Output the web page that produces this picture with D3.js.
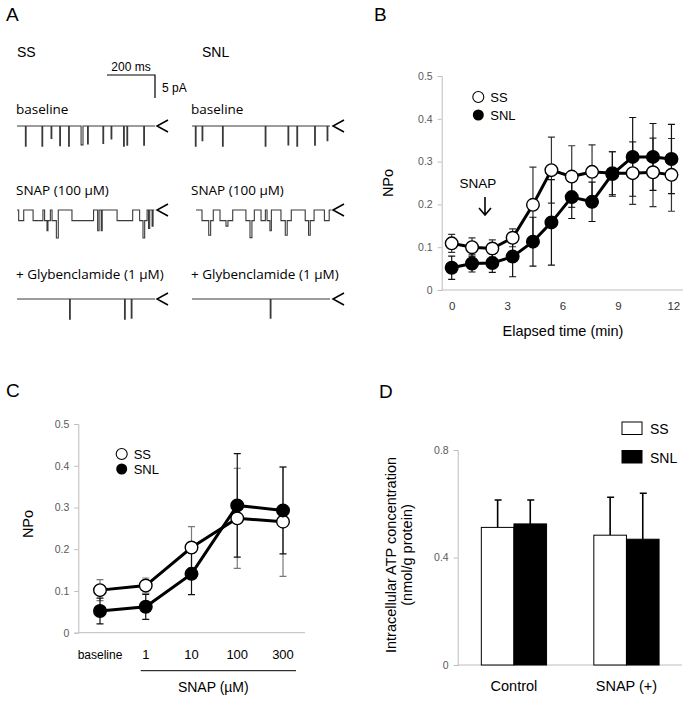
<!DOCTYPE html>
<html>
<head>
<meta charset="utf-8">
<script src="https://cdn.jsdelivr.net/npm/d3@7"></script>
<style>
  body { margin: 0; background: #fff; }
  svg text { font-family: "Liberation Sans", Arial, sans-serif; }
  .cal { font-family: "Open Sans", "Noto Sans", sans-serif; }
</style>
</head>
<body>
<div id="fig"></div>
<script>
// ---------- panel A: single-channel traces (time in ms, current in pA) ----------
// spikes: [time, depth, width]
var ssBaselineSpikes = [[35,4.4,3],[104,4.4,3],[142,2.7,3],[178,4.3,3],[215,4.4,3],[267,4.1,8],[294,3.9,3],[358,3.8,3],[392,2.8,3],[444,4.4,3],[458,4.2,3],[528,4.2,3]];
var snlBaselineSpikes = [[14,4.4,3],[42,3.2,3],[127,4.4,3],[305,4.4,3],[400,4.1,3],[437,4.4,3],[511,4.2,3],[563,3.2,3]];
var ssGlibSpikes = [[219,4.4,3],[448,4.4,3],[476,4.2,3]];
var snlGlibSpikes = [[326,4.2,3]];
// step levels: [time, level]
var ssSnapSteps = [[0,0],[7,-2.3],[28,0],[67,-2.3],[108,0],[115,-2.3],[125,-4.5],[129,-2.3],[139,0],[146,-2.3],[164,-6.1],[172,0],[229,-2.3],[319,0],[336,-4.5],[342,0],[351,-4.5],[355,0],[417,-2.3],[482,0],[511,-2.3],[525,-6.1],[532,-2.3],[542,0],[548,-4],[553,0],[563,-3.5],[567,0],[572,0]];
var snlSnapSteps = [[0,0],[25,-2.3],[53,-5.5],[61,-2.3],[72,0],[100,-2.3],[125,-3.5],[133,-2.3],[153,0],[208,-2.3],[225,-6],[233,-2.3],[243,0],[271,-2.3],[289,0],[296,-2.3],[308,-4.5],[314,0],[354,-2.3],[372,-5.5],[380,-2.3],[397,0],[455,-2.3],[469,-5.5],[476,-2.3],[492,0],[535,-2.3],[555,0],[564,0]];
var traceLength = 575;

// ---------- panel B: NPo vs elapsed time ----------
var timeMin = [0, 1.1, 2.2, 3.3, 4.4, 5.4, 6.5, 7.6, 8.7, 9.8, 10.9, 11.9];
var ssTime = [0.109, 0.100, 0.097, 0.122, 0.199, 0.280, 0.265, 0.276, 0.273, 0.273, 0.275, 0.269];
var ssTimeErr = [0.021, 0.022, 0.020, 0.021, 0.088, 0.077, 0.072, 0.063, 0.050, 0.073, 0.080, 0.085];
var snlTime = [0.052, 0.062, 0.063, 0.078, 0.113, 0.158, 0.217, 0.206, 0.271, 0.311, 0.311, 0.306];
var snlTimeErr = [0.027, 0.020, 0.022, 0.047, 0.057, 0.100, 0.050, 0.046, 0.052, 0.092, 0.078, 0.081];
var timeTicks = [0, 3, 6, 9, 12];
var npoTicksB = [0, 0.1, 0.2, 0.3, 0.4, 0.5];

// ---------- panel C: NPo vs SNAP concentration ----------
var doseCats = ["baseline", "1", "10", "100", "300"];
var ssDose = [0.102, 0.113, 0.204, 0.274, 0.266];
var ssDoseErr = [0.025, 0.018, 0.050, 0.120, 0.131];
var snlDose = [0.052, 0.062, 0.141, 0.305, 0.293];
var snlDoseErr = [0.031, 0.030, 0.050, 0.124, 0.104];

// ---------- panel D: intracellular ATP ----------
var atpGroups = ["Control", "SNAP (+)"];
var atpSeries = ["SS", "SNL"];
var ssAtp = [0.512, 0.483];
var ssAtpErr = [0.102, 0.141];
var snlAtp = [0.525, 0.468];
var snlAtpErr = [0.089, 0.171];
var atpTicks = [0, 0.4, 0.8];

var W = 685, H = 703;
var svg = d3.select("#fig").append("svg").attr("width", W).attr("height", H);
svg.append("rect").attr("width", W).attr("height", H).attr("fill", "#fff");

function panelLetter(t, x, y) {
  svg.append("text").attr("x", x).attr("y", y).attr("font-size", 19).text(t);
}

// ================= A =================
panelLetter("A", 6, 21);
svg.append("text").attr("x", 17).attr("y", 57).attr("font-size", 14).text("SS");
svg.append("text").attr("x", 202).attr("y", 57).attr("font-size", 14).text("SNL");

// scale bar: 200 ms, 5 pA
var xT = d3.scaleLinear().domain([0, 200]).range([0, 48]);
var yT = d3.scaleLinear().domain([0, -5]).range([0, 23]);
var sb = svg.append("g").attr("transform", "translate(107,75)");
sb.append("path").attr("d", "M0,0H" + xT(200) + "V" + yT(-5)).attr("fill", "none").attr("stroke", "#000").attr("stroke-width", 1.2);
sb.append("text").attr("x", xT(100)).attr("y", -4).attr("text-anchor", "middle").attr("font-size", 12).text("200 ms");
sb.append("text").attr("x", xT(200) + 7).attr("y", yT(-2.5) + 5).attr("font-size", 12).text("5 pA");

function spikePoints(spikes) {
  var pts = [[0, 0]];
  spikes.forEach(function (s) {
    pts.push([s[0], 0], [s[0], -s[1]], [s[0] + s[2], -s[1]], [s[0] + s[2], 0]);
  });
  pts.push([traceLength, 0]);
  return pts;
}
function stepPoints(steps) {
  var pts = [];
  steps.forEach(function (s, i) {
    if (i > 0) pts.push([s[0], steps[i - 1][1]]);
    pts.push(s);
  });
  return pts;
}
function drawTrace(pts, x0, y0, arrowX) {
  var g = svg.append("g").attr("transform", "translate(" + x0 + "," + y0 + ")");
  g.append("path").datum(pts)
    .attr("d", d3.line().x(function (d) { return xT(d[0]); }).y(function (d) { return yT(d[1]); }))
    .attr("fill", "none").attr("stroke", "#3a3a3a").attr("stroke-width", 1.1);
  svg.append("path")
    .attr("d", "M" + (arrowX + 11) + "," + (y0 - 6) + "L" + arrowX + "," + y0 + "L" + (arrowX + 11) + "," + (y0 + 6))
    .attr("fill", "none").attr("stroke", "#000").attr("stroke-width", 1.5);
}

var labA = [["baseline", 114], ["SNAP (100 \u00b5M)", 195], ["+ Glybenclamide (1 \u00b5M)", 279]];
labA.forEach(function (l) {
  svg.append("text").attr("class", "cal").attr("x", 16).attr("y", l[1]).attr("font-size", 13.5).text(l[0]);
  svg.append("text").attr("class", "cal").attr("x", 191).attr("y", l[1]).attr("font-size", 13.5).text(l[0]);
});
drawTrace(spikePoints(ssBaselineSpikes), 17, 126, 157);
drawTrace(spikePoints(snlBaselineSpikes), 192, 126, 333);
drawTrace(stepPoints(ssSnapSteps), 17, 210, 157);
drawTrace(stepPoints(snlSnapSteps), 196, 210, 333);
drawTrace(spikePoints(ssGlibSpikes), 17, 299, 157);
drawTrace(spikePoints(snlGlibSpikes), 192, 299, 333);

// ================= common helpers =================
function yAxis(scale, x, ticks, fmt) {
  var g = svg.append("g").attr("transform", "translate(" + x + ",0)")
    .call(d3.axisLeft(scale).tickValues(ticks).tickSize(4).tickPadding(5).tickFormat(fmt));
  g.select(".domain").attr("stroke", "#bdbdbd");
  g.selectAll(".tick line").attr("stroke", "#bdbdbd");
  g.selectAll(".tick text").attr("font-size", 10.5).attr("fill", "#595959")
    .attr("font-family", "'Liberation Sans', Arial, sans-serif");
  return g;
}
function hLine(x1, x2, y, col) {
  svg.append("line").attr("x1", x1).attr("x2", x2).attr("y1", y).attr("y2", y)
    .attr("stroke", col || "#bdbdbd").attr("stroke-width", 1);
}
function errBars(xs, vals, errs, x, y, col, cap) {
  vals.forEach(function (v, i) {
    var cx = x(xs[i]);
    var p = "M" + cx + "," + y(v - errs[i]) + "V" + y(v + errs[i]) +
      "M" + (cx - cap) + "," + y(v + errs[i]) + "H" + (cx + cap) +
      "M" + (cx - cap) + "," + y(v - errs[i]) + "H" + (cx + cap);
    svg.append("path").attr("d", p).attr("stroke", col).attr("stroke-width", 1.2).attr("fill", "none");
  });
}
function series(xs, vals, x, y, filled) {
  svg.append("path").datum(vals)
    .attr("d", d3.line().x(function (d, i) { return x(xs[i]); }).y(function (d) { return y(d); }))
    .attr("fill", "none").attr("stroke", "#000").attr("stroke-width", 3);
}
function dots(xs, vals, x, y, filled) {
  svg.append("g").selectAll("circle").data(vals).enter().append("circle")
    .attr("cx", function (d, i) { return x(xs[i]); }).attr("cy", function (d) { return y(d); })
    .attr("r", 6.3).attr("fill", filled ? "#000" : "#fff").attr("stroke", "#000").attr("stroke-width", 1.4);
}
function circleLegend(x, y1, y2) {
  svg.append("circle").attr("cx", x).attr("cy", y1).attr("r", 5.5).attr("fill", "#fff").attr("stroke", "#000").attr("stroke-width", 1.1);
  svg.append("circle").attr("cx", x).attr("cy", y2).attr("r", 5.5).attr("fill", "#000");
  svg.append("text").attr("x", x + 12).attr("y", y1 + 5).attr("font-size", 13).text("SS");
  svg.append("text").attr("x", x + 12).attr("y", y2 + 5).attr("font-size", 13).text("SNL");
}
function yLabel(t, x, y, size) {
  svg.append("text").attr("transform", "translate(" + x + "," + y + ") rotate(-90)")
    .attr("text-anchor", "middle").attr("font-size", size).text(t);
}

// ================= B =================
panelLetter("B", 374, 21);
var xB = d3.scaleLinear().domain([0, 12]).range([451.7, 673.3]);
var yB = d3.scaleLinear().domain([0, 0.5]).range([290, 76]);
yAxis(yB, 441.7, npoTicksB, function (d) { return d === 0 ? "0" : d3.format(".1f")(d); });
hLine(441.7, 683, yB(0));
svg.append("g").attr("transform", "translate(0," + yB(0) + ")")
  .call(d3.axisBottom(xB).tickValues(timeTicks).tickSize(0).tickPadding(12))
  .call(function (g) {
    g.select(".domain").remove();
    g.selectAll("text").attr("font-size", 11.5).attr("fill", "#333")
      .attr("font-family", "'Liberation Sans', Arial, sans-serif");
  });
svg.append("text").attr("x", 563).attr("y", 336).attr("text-anchor", "middle").attr("font-size", 14.5).text("Elapsed time (min)");
yLabel("NPo", 393, 183, 14.5);
circleLegend(478.3, 97, 115);
svg.append("text").attr("x", 478).attr("y", 188).attr("text-anchor", "middle").attr("font-size", 13.5).text("SNAP");
svg.append("path").attr("d", "M485,197V215M479,208L485,215L491,208").attr("fill", "none").attr("stroke", "#000").attr("stroke-width", 1.6);

errBars(timeMin, ssTime, ssTimeErr, xB, yB, "#333", 3.5);
errBars(timeMin, snlTime, snlTimeErr, xB, yB, "#111", 3.5);
series(timeMin, ssTime, xB, yB);
series(timeMin, snlTime, xB, yB);
dots(timeMin, ssTime, xB, yB, false);
dots(timeMin, snlTime, xB, yB, true);

// ================= C =================
panelLetter("C", 6, 397);
var xC = d3.scalePoint().domain(doseCats).range([100, 283]);
var yC = d3.scaleLinear().domain([0, 0.5]).range([632.7, 424]);
yAxis(yC, 78.3, npoTicksB, function (d) { return d === 0 ? "0" : d3.format(".1f")(d); });
hLine(78.3, 305, yC(0));
doseCats.forEach(function (c) {
  svg.append("text").attr("x", xC(c)).attr("y", 659).attr("text-anchor", "middle")
    .attr("font-size", c === "baseline" ? 12 : 13).text(c);
});
hLine(xC("1") - 5, xC("300") + 13, 670.7, "#000");
svg.append("text").attr("x", 213.3).attr("y", 692).attr("text-anchor", "middle").attr("font-size", 14).text("SNAP (\u00b5M)");
yLabel("NPo", 33, 524, 14.5);
circleLegend(121.7, 454, 469);

errBars(doseCats, ssDose, ssDoseErr, xC, yC, "#7a7a7a", 3.5);
errBars(doseCats, snlDose, snlDoseErr, xC, yC, "#111", 3.5);
series(doseCats, ssDose, xC, yC);
series(doseCats, snlDose, xC, yC);
dots(doseCats, ssDose, xC, yC, false);
dots(doseCats, snlDose, xC, yC, true);

// ================= D =================
panelLetter("D", 379, 398);
var yD = d3.scaleLinear().domain([0, 0.8]).range([665, 450]);
var xD = d3.scaleBand().domain(atpGroups).range([457.7, 682.7]).paddingInner(0.42).paddingOuter(0.21);
var xDs = d3.scaleBand().domain(atpSeries).range([0, xD.bandwidth()]);
yAxis(yD, 457.7, atpTicks, function (d) { return d === 0 ? "0" : d3.format(".1f")(d); });
hLine(457.7, 682, yD(0));

var atpVals = { SS: ssAtp, SNL: snlAtp };
var atpErrs = { SS: ssAtpErr, SNL: snlAtpErr };
atpSeries.forEach(function (s) {
  atpGroups.forEach(function (g, i) {
    var bx = xD(g) + xDs(s), v = atpVals[s][i], e = atpErrs[s][i];
    var cx = bx + xDs.bandwidth() / 2;
    svg.append("path").attr("d", "M" + cx + "," + yD(v) + "V" + yD(v + e) + "M" + (cx - 3) + "," + yD(v + e) + "H" + (cx + 4))
      .attr("stroke", "#000").attr("stroke-width", 1.6).attr("fill", "none");
    svg.append("rect").attr("x", bx).attr("y", yD(v)).attr("width", xDs.bandwidth()).attr("height", yD(0) - yD(v))
      .attr("fill", s === "SS" ? "#fff" : "#000").attr("stroke", "#000").attr("stroke-width", 1);
  });
});
atpGroups.forEach(function (g) {
  svg.append("text").attr("x", xD(g) + xD.bandwidth() / 2).attr("y", 691).attr("text-anchor", "middle")
    .attr("font-size", 14.5).text(g);
});
yLabel("Intracellular ATP concentration", 396, 555, 14.5);
yLabel("(nmol/g protein)", 412, 555, 14.5);
atpSeries.forEach(function (s, i) {
  var ly = 422 + i * 28.5;
  svg.append("rect").attr("x", 622).attr("y", ly).attr("width", 20).attr("height", 12.5)
    .attr("fill", s === "SS" ? "#fff" : "#000").attr("stroke", "#000").attr("stroke-width", 1);
  svg.append("text").attr("x", 650).attr("y", ly + 12).attr("font-size", 14).text(s);
});
</script>
</body>
</html>
